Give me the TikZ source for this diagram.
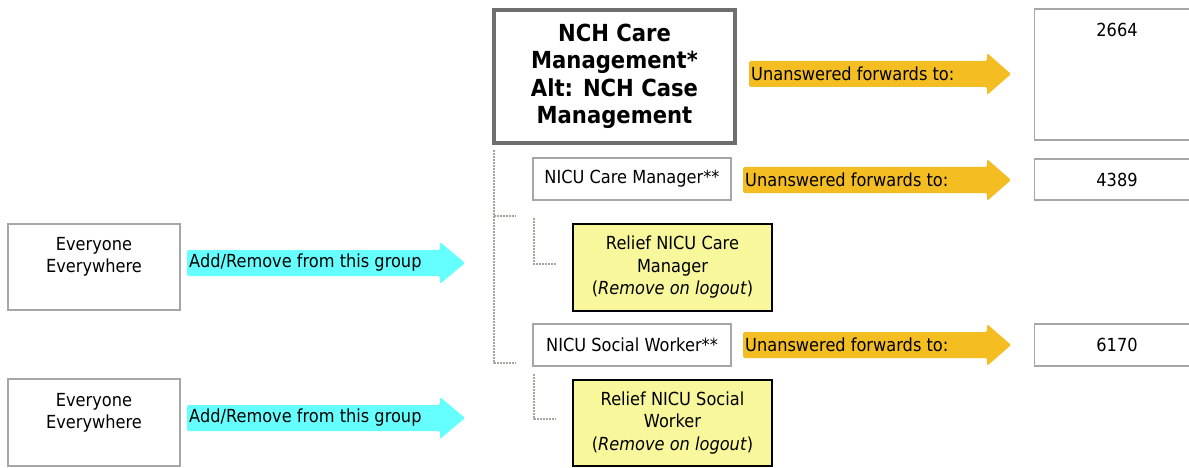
\documentclass[tikz,border=0pt]{standalone}
\usepackage{fontspec}
\setmainfont{DejaVu Sans}[FakeStretch=0.9]
\definecolor{fwd}{HTML}{F4BD22}
\definecolor{cyanarr}{HTML}{66FFFF}
\definecolor{relief}{HTML}{F9F79B}
\definecolor{boxgray}{HTML}{A6A6A6}
\definecolor{topgray}{HTML}{6E6E6E}
\definecolor{dotgray}{HTML}{A4A49A}
\begin{document}
\begin{tikzpicture}[x=1pt,y=-1pt,
  txt/.style={font=\fontsize{18}{22.5}\selectfont, align=center, inner sep=0pt, text=black},
  graybox/.style={draw=boxgray, line width=1.6pt, fill=white, inner sep=0pt},
  topbox/.style={draw=topgray, line width=3.8pt, fill=white, inner sep=0pt,
    font=\bfseries\fontsize{23.5}{27.5}\selectfont, align=center},
  reliefbox/.style={draw=black, line width=2pt, fill=relief, inner sep=0pt,
    font=\fontsize{18}{22.5}\selectfont, align=center},
  tree/.style={draw=dotgray, line width=2.6pt, dash pattern=on 1.7pt off 1.3pt},
  fwdarrow/.style={fill=fwd, rounded corners=1.5pt},
  addarrow/.style={fill=cyanarr, rounded corners=1.5pt},
  arrtxt/.style={txt, anchor=west}
]
\path[use as bounding box, clip] (0,0) rectangle (1189,468);
\fill[white] (0,0) rectangle (1189,468);

% main box
\node[topbox, minimum width=241pt, minimum height=133pt] (top) at (614.5,76.5)
  {NCH Care\\Management*\\Alt: NCH Case\\Management};

% right boxes
\node[graybox, minimum width=165pt, minimum height=131.5pt] (r2664) at (1117,74.5) {};
\node[txt] (t2664) at (1117,30) {2664};
\node[graybox, txt, minimum width=165pt, minimum height=41.5pt] (r4389) at (1117,179.5) {4389};
\node[graybox, txt, minimum width=165pt, minimum height=42.5pt] (r6170) at (1117,345) {6170};

% member boxes
\node[graybox, txt, minimum width=198.5pt, minimum height=42.5pt] (ncm) at (632,179) {NICU Care Manager**};
\node[graybox, txt, minimum width=198.5pt, minimum height=42.5pt] (nsw) at (632,345) {NICU Social Worker**};
\node[reliefbox, minimum width=199pt, minimum height=87pt] (rel1) at (672.5,267.5)
  {Relief NICU Care\\Manager\\(\textit{Remove on logout})};
\node[reliefbox, minimum width=199pt, minimum height=86pt] (rel2) at (672.5,423)
  {Relief NICU Social\\Worker\\(\textit{Remove on logout})};

% everyone boxes
\node[graybox, minimum width=172pt, minimum height=86.5pt] (ev1) at (94,267) {};
\node[txt] (ev1t) at (94,257) {Everyone\\Everywhere};
\node[graybox, minimum width=172pt, minimum height=87pt] (ev2) at (94,422.5) {};
\node[txt] (ev2t) at (94,413) {Everyone\\Everywhere};

% tree connectors
\coordinate (trunk) at (494,150);
\coordinate (b1) at (516,216);
\coordinate (b2) at (516,363);
\coordinate (c1top) at (534,218);
\coordinate (c1end) at (556,264);
\coordinate (c2top) at (534,374);
\coordinate (c2end) at (556,419);
\draw[tree] (trunk) |- (b2);
\draw[tree] (trunk |- b1) -- (b1);
\draw[tree] (c1top) |- (c1end);
\draw[tree] (c2top) |- (c2end);

% forward arrows
\fill[fwdarrow] (749,61) -- (987,61) -- (987,53) -- (1011,74) -- (987,95) -- (987,87) -- (749,87) -- cycle;
\node[arrtxt] (a1) at (751,74) {Unanswered forwards to:};
\fill[fwdarrow] (743,167) -- (987,167) -- (987,159) -- (1011,180) -- (987,201) -- (987,193) -- (743,193) -- cycle;
\node[arrtxt] (a2) at (745,180) {Unanswered forwards to:};
\fill[fwdarrow] (743,332) -- (987,332) -- (987,324) -- (1011,345) -- (987,366) -- (987,358) -- (743,358) -- cycle;
\node[arrtxt] (a3) at (745,345) {Unanswered forwards to:};

% add/remove arrows
\fill[addarrow] (187,250) -- (440,250) -- (440,242) -- (465,263) -- (440,284) -- (440,276) -- (187,276) -- cycle;
\node[arrtxt] (g1) at (189,263) {Add/Remove from this group};
\fill[addarrow] (187,405) -- (440,405) -- (440,397) -- (465,418) -- (440,439) -- (440,431) -- (187,431) -- cycle;
\node[arrtxt] (g2) at (189,418) {Add/Remove from this group};
\end{tikzpicture}
\end{document}
